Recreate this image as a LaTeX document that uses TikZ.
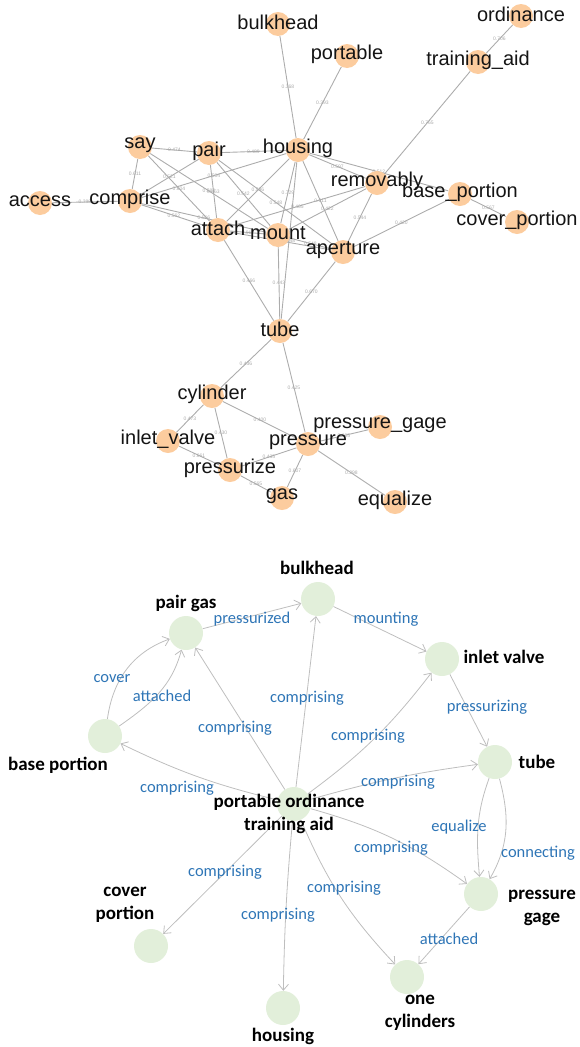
\documentclass[tikz,border=0pt]{standalone}
\usepackage{fontspec}
\newfontfamily\netfont{Liberation Sans}
\newfontfamily\cfont{Carlito}
\usetikzlibrary{arrows.meta}
\pgfdeclarelayer{bg}
\pgfsetlayers{bg,main}
\definecolor{peach}{RGB}{252,204,158}
\definecolor{sage}{RGB}{226,239,218}
\definecolor{edgegrey}{RGB}{172,172,172}
\definecolor{arrowgrey}{RGB}{190,190,190}
\definecolor{relblue}{RGB}{46,117,182}
\definecolor{wgrey}{RGB}{170,170,170}
% word-network term: circle plus its label drawn on top
\newcommand\netterm[4]{%
  \node[term] (#1) at (#2,#3) {};
  \node[termlabel] (#1-txt) at (#2,#3) {#4};}
\begin{document}
\begin{tikzpicture}[x=1pt,y=-1pt,
  term/.style={circle,fill=peach,minimum size=24pt,inner sep=0pt},
  termlabel/.style={font=\netfont\fontsize{20}{22}\selectfont,inner sep=0pt,text=black!92,yshift=1.5pt},
  link/.style={draw=edgegrey,line width=0.9pt},
  weight/.style={font=\netfont\fontsize{5}{5}\selectfont,text=wgrey,inner sep=0.5pt},
  concept/.style={circle,fill=sage,minimum size=34pt,inner sep=0pt},
  clabel/.style={font=\cfont\bfseries\fontsize{19}{23}\selectfont,inner sep=0pt,align=center},
  rel/.style={draw=arrowgrey,line width=0.8pt,-{Straight Barb[length=6pt,width=10pt]}},
  rlabel/.style={font=\cfont\fontsize{16.5}{18}\selectfont,text=relblue,inner sep=0pt},
]
\useasboundingbox (0,0) rectangle (580,1047);

% ---------- word co-occurrence network ----------
\netterm{bulkhead}{278}{24}{bulkhead}
\netterm{portable}{347}{56}{portable}
\netterm{ordinance}{521}{16}{ordinance}
\netterm{trainingaid}{478}{62}{training\_aid}
\netterm{say}{140}{147}{say}
\netterm{pair}{209}{153}{pair}
\netterm{housing}{298}{150}{housing}
\netterm{access}{40}{203}{access}
\netterm{comprise}{130}{201}{comprise}
\netterm{attach}{218}{230}{attach}
\netterm{mount}{278}{235}{mount}
\netterm{aperture}{343}{252}{aperture}
\netterm{removably}{377}{183}{removably}
\netterm{baseportion}{460}{194}{base\_portion}
\netterm{coverportion}{517}{222}{cover\_portion}
\netterm{tube}{280}{331}{tube}
\netterm{cylinder}{212}{396}{cylinder}
\netterm{inletvalve}{168}{441}{inlet\_valve}
\netterm{pressure}{308}{444}{pressure}
\netterm{pressuregage}{380}{427}{pressure\_gage}
\netterm{pressurize}{230}{470}{pressurize}
\netterm{gas}{282}{498}{gas}
\netterm{equalize}{395}{502}{equalize}

\begin{pgfonlayer}{bg}
\foreach \a/\b/\w in {
  bulkhead/housing/0.368, portable/housing/0.393, ordinance/trainingaid/0.706,
  trainingaid/removably/0.765, say/pair/0.474, pair/housing/0.489,
  say/comprise/0.611, access/comprise/0.388, comprise/pair/0.521,
  comprise/housing/0.504, comprise/attach/0.562, comprise/mount/0.566,
  say/attach/0.604, say/mount/0.582, pair/attach/0.463, pair/mount/0.542,
  pair/aperture/0.548, housing/attach/0.596, housing/mount/0.729,
  housing/aperture/0.611, housing/removably/0.597, housing/baseportion/0.512,
  housing/tube/0.448, removably/attach/0.465, removably/mount/0.422,
  removably/aperture/0.544, baseportion/coverportion/0.567,
  aperture/baseportion/0.420, attach/mount/0.912, mount/aperture/0.548,
  attach/aperture/0.530, attach/tube/0.466, mount/tube/0.443,
  aperture/tube/0.670, tube/cylinder/0.436, tube/pressure/0.425,
  cylinder/inletvalve/0.473, cylinder/pressurize/0.430, cylinder/pressure/0.400,
  inletvalve/pressurize/0.661, pressurize/pressure/0.435, pressurize/gas/0.565,
  pressure/gas/0.607, pressure/equalize/0.298, pressure/pressuregage/0.605}
  \draw[link] (\a) -- (\b) node[weight,midway] {\w};
\end{pgfonlayer}

% ---------- concept graph ----------
\node[concept] (cBulk) at (318,599) {};
\node[concept] (cPair) at (186,633) {};
\node[concept] (cInlet) at (442,659) {};
\node[concept] (cBase) at (105,736) {};
\node[concept] (cTube) at (495,762) {};
\node[concept] (cAid) at (294,804) {};
\node[concept] (cGage) at (481,894) {};
\node[concept] (cCover) at (151,946) {};
\node[concept] (cCyl) at (407,977) {};
\node[concept] (cHousing) at (283,1008) {};

\begin{pgfonlayer}{bg}
\draw[rel] (cPair) -- (cBulk);
\draw[rel] (cBulk) -- (cInlet);
\draw[rel] (cBase) to[out=82,in=-160] (cPair);
\draw[rel] (cBase) to[out=35,in=-105] (cPair);
\draw[rel] (cAid) -- (cPair);
\draw[rel] (cAid) -- (cBulk);
\draw[rel] (cAid) to[bend right=8] (cInlet);
\draw[rel] (cInlet) -- (cTube);
\draw[rel] (cAid) to[bend left=6] (cBase);
\draw[rel] (cAid) to[bend left=4] (cTube);
\draw[rel] (cTube) to[out=-110,in=95] (cGage);
\draw[rel] (cTube) to[out=-75,in=60] (cGage);
\draw[rel] (cAid) to[bend left=10] (cGage);
\draw[rel] (cAid) -- (cCover);
\draw[rel] (cAid) to[bend right=10] (cCyl);
\draw[rel] (cAid) to[bend right=2] (cHousing);
\draw[rel] (cGage) -- (cCyl);
\end{pgfonlayer}

\node[clabel] (lBulk) at (317,568) {bulkhead};
\node[clabel] (lPair) at (186,603) {pair gas};
\node[clabel] (lInlet) at (504,657) {inlet valve};
\node[clabel] (lBase) at (58,765) {base portion};
\node[clabel] (lTube) at (537,762) {tube};
\node[clabel] (lAid) at (289,814) {portable ordinance\\training aid};
\node[clabel] (lGage) at (542,908) {pressure\\gage};
\node[clabel] (lCover) at (125,905) {cover\\portion};
\node[clabel] (lCyl) at (420,1013) {one\\cylinders};
\node[clabel] (lHousing) at (283,1036) {housing};

\node[rlabel] at (252,619) {pressurized};
\node[rlabel] at (386,619) {mounting};
\node[rlabel] at (112,679) {cover};
\node[rlabel] at (162,696) {attached};
\node[rlabel] at (307,698) {comprising};
\node[rlabel] at (487,707) {pressurizing};
\node[rlabel] at (235,728) {comprising};
\node[rlabel] at (368,736) {comprising};
\node[rlabel] at (398,782) {comprising};
\node[rlabel] at (177,788) {comprising};
\node[rlabel] at (459,827) {equalize};
\node[rlabel] at (391,848) {comprising};
\node[rlabel] at (538,853) {connecting};
\node[rlabel] at (225,872) {comprising};
\node[rlabel] at (344,888) {comprising};
\node[rlabel] at (278,915) {comprising};
\node[rlabel] at (449,939) {attached};
\end{tikzpicture}
\end{document}
